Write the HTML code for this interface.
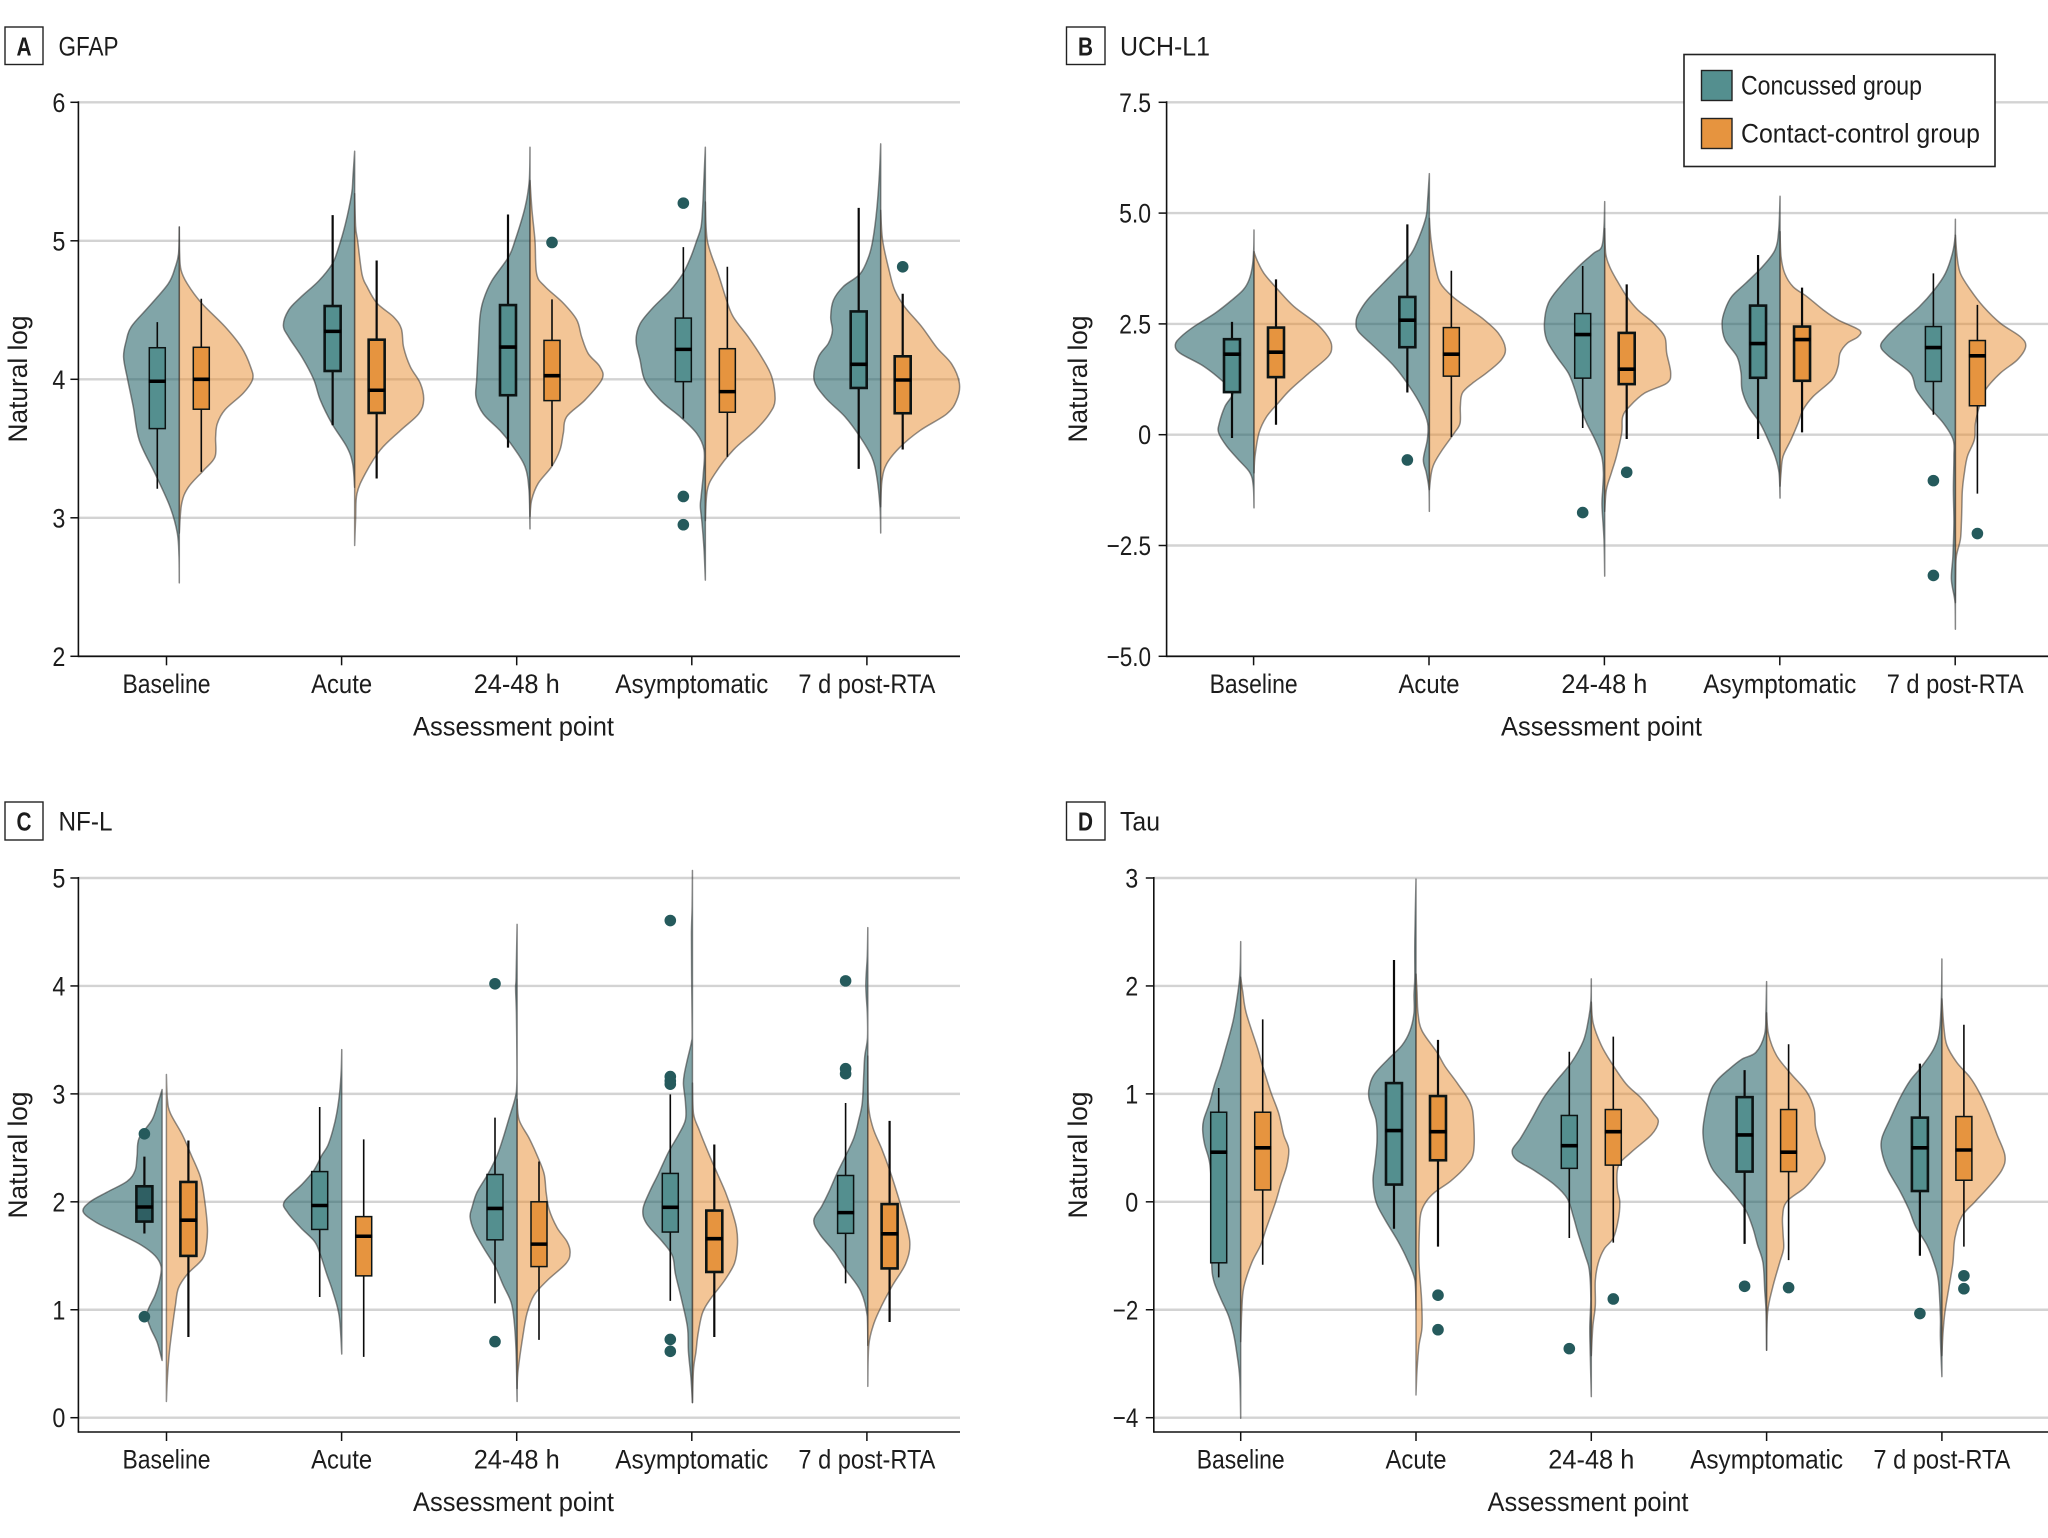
<!DOCTYPE html>
<html lang="en">
<head>
<meta charset="utf-8">
<title>Biomarker violin plots</title>
<style>
html,body{margin:0;padding:0;background:#fff;}
svg{display:block;font-family:"Liberation Sans",sans-serif;fill:#1c1c1c;}
</style>
</head>
<body>
<svg id="figure" xmlns="http://www.w3.org/2000/svg" width="2048" height="1538" viewBox="0 0 2048 1538">
  <rect x="0" y="0" width="2048" height="1538" fill="#fff"/>
  <g id="panel-a"></g>
  <g id="panel-b"></g>
  <g id="panel-c"></g>
  <g id="panel-d"></g>

  <g>
    <rect x="5" y="27" width="38" height="37.5" fill="#fff" stroke="#222" stroke-width="1.4"/>
    <text x="24" y="55.5" font-size="26" font-weight="700" text-anchor="middle" textLength="15" lengthAdjust="spacingAndGlyphs">A</text>
    <text x="58.5" y="55.5" font-size="27" textLength="60" lengthAdjust="spacingAndGlyphs">GFAP</text>
  </g>
  <g>
    <rect x="1066.5" y="27" width="38.5" height="37.5" fill="#fff" stroke="#222" stroke-width="1.4"/>
    <text x="1085.5" y="55.5" font-size="26" font-weight="700" text-anchor="middle" textLength="15" lengthAdjust="spacingAndGlyphs">B</text>
    <text x="1120" y="55.5" font-size="27" textLength="90" lengthAdjust="spacingAndGlyphs">UCH-L1</text>
  </g>
  <g>
    <rect x="5" y="802" width="38" height="38" fill="#fff" stroke="#222" stroke-width="1.4"/>
    <text x="24" y="830.5" font-size="26" font-weight="700" text-anchor="middle" textLength="15" lengthAdjust="spacingAndGlyphs">C</text>
    <text x="58.5" y="830.5" font-size="27" textLength="54" lengthAdjust="spacingAndGlyphs">NF-L</text>
  </g>
  <g>
    <rect x="1066.5" y="802" width="38.5" height="38" fill="#fff" stroke="#222" stroke-width="1.4"/>
    <text x="1085.5" y="830.5" font-size="26" font-weight="700" text-anchor="middle" textLength="15" lengthAdjust="spacingAndGlyphs">D</text>
    <text x="1120" y="830.5" font-size="27" textLength="40" lengthAdjust="spacingAndGlyphs">Tau</text>
  </g>

  <g id="legend">
    <rect x="1684" y="54.5" width="311" height="112" fill="#fff" stroke="#222" stroke-width="1.6"/>
    <g>
      <rect x="1701.5" y="70.5" width="30.5" height="30" fill="#548f8f" stroke="#222" stroke-width="1.4"/>
      <text x="1741" y="94.5" font-size="27" textLength="181" lengthAdjust="spacingAndGlyphs">Concussed group</text>
    </g>
    <g>
      <rect x="1701.5" y="118.5" width="30.5" height="30" fill="#e6943f" stroke="#222" stroke-width="1.4"/>
      <text x="1741" y="142.5" font-size="27" textLength="239" lengthAdjust="spacingAndGlyphs">Contact-control group</text>
    </g>
  </g>
</svg>

<script>
// ---------- shared categories ----------
const categories = ["Baseline", "Acute", "24-48 h", "Asymptomatic", "7 d post-RTA"];

// ---------- A: GFAP ----------
const gfapTicks = [6, 5, 4, 3, 2];
const gfapTickLabels = ["6", "5", "4", "3", "2"];
// box stats: [low whisker, q1, median, q3, high whisker]
const gfapConcussedBox = [
  [3.21, 3.644, 3.986, 4.228, 4.413],
  [3.668, 4.06, 4.346, 4.529, 5.185],
  [3.507, 3.885, 4.233, 4.536, 5.19],
  [3.716, 3.983, 4.216, 4.442, 4.954],
  [3.353, 3.9375, 4.108, 4.49, 5.238]
];
const gfapControlBox = [
  [3.332, 3.784, 4.0, 4.231, 4.582],
  [3.284, 3.757, 3.921, 4.286, 4.858],
  [3.373, 3.846, 4.026, 4.281, 4.577],
  [3.44, 3.762, 3.911, 4.221, 4.813],
  [3.493, 3.755, 3.995, 4.166, 4.618]
];
const gfapConcussedOutliers = [[], [], [], [5.272, 3.154, 2.95], []];
const gfapControlOutliers = [[], [], [4.988], [], [4.8125]];
// density profiles: [value, density]
const gfapConcussedDensity = [
  [[5.10,0],[4.91,.007],[4.81,.04],[4.69,.11],[4.52,.31],[4.38,.48],[4.28,.53],[4.16,.557],[4.0,.517],[3.80,.46],[3.56,.40],[3.32,.243],[3.08,.093],[2.89,.02],[2.72,.003],[2.53,0]],
  [[5.647,0],[5.46,.017],[5.34,.03],[5.12,.093],[4.93,.17],[4.83,.227],[4.71,.36],[4.59,.543],[4.50,.66],[4.39,.713],[4.305,.66],[4.16,.527],[4.0,.41],[3.85,.343],[3.68,.227],[3.51,.077],[3.39,.02],[3.22,0]],
  [[5.675,0],[5.435,.007],[5.24,.05],[5.0,.15],[4.88,.217],[4.71,.383],[4.57,.467],[4.45,.5],[4.23,.517],[4.0,.533],[3.87,.54],[3.75,.467],[3.63,.3],[3.51,.167],[3.37,.05],[3.2,.01],[2.92,0]],
  [[5.675,0],[5.46,.013],[5.24,.027],[5.10,.043],[5.0,.087],[4.88,.147],[4.76,.227],[4.64,.353],[4.52,.52],[4.40,.653],[4.28,.693],[4.14,.653],[3.99,.603],[3.85,.453],[3.73,.253],[3.61,.087],[3.49,.013],[3.32,.02],[3.15,.043],[3.08,.05],[2.96,.033],[2.77,.013],[2.55,0]],
  [[5.70,0],[5.48,.013],[5.22,.04],[5.0,.08],[4.88,.123],[4.76,.207],[4.67,.373],[4.57,.473],[4.45,.50],[4.35,.483],[4.26,.523],[4.16,.623],[4.0,.667],[3.87,.557],[3.73,.357],[3.585,.207],[3.44,.09],[3.30,.04],[3.08,.007],[2.89,0]]
];
const gfapControlDensity = [
  [[5.10,0],[4.91,.003],[4.79,.017],[4.69,.08],[4.55,.223],[4.38,.457],[4.23,.623],[4.09,.713],[4.0,.733],[3.90,.64],[3.78,.457],[3.68,.38],[3.58,.363],[3.44,.357],[3.34,.24],[3.22,.09],[3.10,.023],[2.89,0]],
  [[5.34,0],[5.10,.01],[5.0,.03],[4.76,.073],[4.67,.123],[4.55,.223],[4.45,.39],[4.365,.467],[4.23,.49],[4.09,.557],[3.97,.657],[3.85,.69],[3.75,.64],[3.63,.457],[3.49,.257],[3.32,.107],[3.175,.023],[3.0,.01],[2.80,0]],
  [[5.435,0],[5.22,.02],[5.0,.05],[4.76,.067],[4.67,.15],[4.55,.333],[4.43,.467],[4.305,.517],[4.185,.583],[4.09,.70],[4.0,.72],[3.85,.55],[3.73,.367],[3.61,.333],[3.49,.30],[3.37,.217],[3.25,.083],[3.13,.017],[3.01,0]],
  [[5.28,0],[5.0,.02],[4.76,.13],[4.57,.213],[4.45,.28],[4.305,.43],[4.16,.563],[4.02,.663],[3.85,.697],[3.75,.64],[3.63,.497],[3.49,.28],[3.32,.097],[3.2,.02],[2.98,0]],
  [[5.22,0],[5.0,.02],[4.76,.093],[4.64,.143],[4.52,.243],[4.38,.41],[4.23,.56],[4.11,.71],[3.97,.787],[3.85,.76],[3.75,.66],[3.63,.393],[3.51,.193],[3.39,.06],[3.27,.013],[3.08,0]]
];

// ---------- B: UCH-L1 ----------
const uchTicks = [7.5, 5, 2.5, 0, -2.5, -5];
const uchTickLabels = ["7.5", "5.0", "2.5", "0", "\u22122.5", "\u22125.0"];
const uchConcussedBox = [
  [-0.075, 0.961, 1.817, 2.155, 2.545],
  [0.953, 1.974, 2.583, 3.108, 4.745],
  [0.15, 1.276, 2.26, 2.733, 3.806],
  [-0.098, 1.284, 2.057, 2.913, 4.054],
  [0.45, 1.201, 1.967, 2.44, 3.64]
];
const uchControlBox = [
  [0.225, 1.299, 1.862, 2.417, 3.506],
  [-0.053, 1.321, 1.817, 2.417, 3.70],
  [-0.098, 1.141, 1.479, 2.297, 3.393],
  [0.052, 1.216, 2.147, 2.44, 3.318],
  [-1.329, 0.653, 1.779, 2.125, 2.928]
];
const uchConcussedOutliers = [[], [-0.57], [-1.757], [], [-1.036, -3.176]];
const uchControlOutliers = [[], [], [-0.848], [], [-2.23]];
const uchConcussedDensity = [
  [[4.62,0],[4.17,.003],[3.79,.017],[3.49,.05],[3.27,.107],[3.04,.22],[2.74,.39],[2.44,.60],[2.21,.73],[2.03,.787],[1.84,.74],[1.54,.50],[1.16,.29],[.94,.21],[.64,.29],[.26,.347],[.04,.353],[-.26,.273],[-.56,.157],[-.86,.04],[-1.16,.007],[-1.65,0]],
  [[5.89,0],[5.29,.017],[4.92,.033],[4.47,.1],[4.09,.18],[3.79,.3],[3.42,.46],[3.04,.62],[2.74,.707],[2.55,.733],[2.33,.71],[1.99,.553],[1.54,.35],[1.09,.2],[.64,.08],[.26,.017],[-.11,.02],[-.56,.06],[-.86,.03],[-1.24,.003],[-1.73,0]],
  [[5.26,0],[4.69,.007],[4.24,.03],[4.09,.113],[3.79,.263],[3.34,.447],[2.97,.563],[2.515,.603],[2.14,.58],[1.76,.48],[1.39,.363],[1.01,.297],[.64,.247],[.26,.18],[-.11,.097],[-.49,.03],[-.86,.013],[-1.24,.02],[-1.61,.027],[-2.36,.007],[-3.19,0]],
  [[5.38,0],[4.62,.013],[4.17,.05],[3.79,.177],[3.42,.343],[3.12,.483],[2.82,.55],[2.515,.58],[2.14,.55],[1.76,.43],[1.39,.39],[1.01,.38],[.64,.317],[.26,.2],[-.11,.12],[-.49,.05],[-.86,.01],[-1.43,0]],
  [[4.86,0],[4.47,.003],[4.09,.03],[3.64,.1],[3.27,.21],[2.89,.36],[2.515,.55],[2.21,.69],[1.99,.747],[1.76,.66],[1.39,.45],[1.01,.39],[.64,.27],[.26,.12],[-.11,.023],[-.49,.015],[-1.24,.02],[-1.99,.015],[-2.74,.025],[-3.27,.04],[-3.79,.003],[-4.39,0]]
];
const uchControlDensity = [
  [[4.13,0],[3.94,.03],[3.64,.1],[3.27,.24],[2.89,.4],[2.515,.62],[2.21,.74],[1.99,.777],[1.76,.74],[1.39,.55],[1.01,.36],[.71,.24],[.41,.127],[.04,.05],[-.49,.01],[-.86,0]],
  [[4.88,0],[4.39,.017],[3.79,.06],[3.42,.11],[3.12,.23],[2.82,.41],[2.59,.55],[2.29,.69],[1.95,.76],[1.69,.72],[1.39,.57],[1.16,.43],[.94,.33],[.64,.31],[.26,.307],[.04,.25],[-.34,.13],[-.64,.05],[-.86,.02],[-1.24,0]],
  [[4.65,0],[4.09,.01],[3.79,.05],[3.49,.12],[3.12,.22],[2.82,.33],[2.515,.49],[2.21,.6],[1.84,.62],[1.39,.66],[1.16,.62],[.94,.40],[.64,.25],[.41,.18],[.04,.17],[-.49,.117],[-.86,.067],[-1.24,.017],[-1.73,0]],
  [[4.58,0],[4.02,.01],[3.64,.047],[3.34,.13],[3.12,.267],[2.82,.43],[2.59,.58],[2.36,.793],[2.21,.78],[2.06,.67],[1.84,.6],[1.54,.58],[1.24,.52],[.86,.33],[.56,.23],[.26,.18],[-.11,.11],[-.49,.03],[-.86,.01],[-1.16,0]],
  [[4.5,0],[4.02,.017],[3.64,.05],[3.27,.15],[2.89,.28],[2.515,.45],[2.21,.65],[1.99,.703],[1.69,.62],[1.39,.45],[1.01,.3],[.64,.24],[.26,.2],[-.11,.19],[-.49,.12],[-.86,.09],[-1.24,.07],[-1.61,.065],[-1.99,.06],[-2.36,.05],[-2.74,.01],[-3.12,.003],[-3.79,0]]
];

// ---------- C: NF-L ----------
const nflTicks = [5, 4, 3, 2, 1, 0];
const nflTickLabels = ["5", "4", "3", "2", "1", "0"];
const nflConcussedBox = [
  [1.707, 1.817, 1.952, 2.144, 2.419],
  [1.118, 1.744, 1.966, 2.28, 2.879],
  [1.059, 1.648, 1.939, 2.253, 2.78],
  [1.082, 1.72, 1.949, 2.263, 2.995],
  [1.244, 1.708, 1.90, 2.244, 2.915]
];
const nflControlBox = [
  [.748, 1.499, 1.83, 2.184, 2.568],
  [.563, 1.314, 1.681, 1.863, 2.578],
  [.721, 1.40, 1.608, 2.0, 2.373],
  [.748, 1.35, 1.658, 1.919, 2.531],
  [.887, 1.383, 1.704, 1.979, 2.75]
];
const nflConcussedOutliers = [[2.63, .936], [], [4.02, .705], [4.606, 3.16, 3.12, 3.09, .725, .615], [4.047, 3.233, 3.187]];
const nflControlOutliers = [[], [], [], [], []];
const nflConcussedDensity = [
  [[3.04,0],[2.92,.04],[2.76,.1],[2.59,.23],[2.43,.25],[2.29,.27],[2.19,.35],[2.09,.55],[2.0,.72],[1.91,.79],[1.81,.66],[1.70,.42],[1.60,.21],[1.50,.07],[1.40,.01],[1.27,.025],[1.135,.07],[.97,.15],[.84,.12],[.70,.05],[.53,0]],
  [[3.41,0],[3.22,.005],[3.02,.02],[2.82,.05],[2.66,.09],[2.52,.14],[2.43,.2],[2.29,.28],[2.16,.4],[2.0,.575],[1.90,.54],[1.76,.41],[1.63,.27],[1.50,.21],[1.33,.15],[1.17,.09],[.94,.025],[.59,0]],
  [[4.57,0],[4.08,.01],[3.98,.015],[3.75,.007],[3.42,.003],[3.09,.003],[2.96,.02],[2.76,.085],[2.59,.14],[2.43,.2],[2.26,.29],[2.09,.4],[1.95,.45],[1.86,.47],[1.73,.43],[1.565,.33],[1.40,.22],[1.23,.14],[1.07,.06],[.90,.03],[.61,.01],[.15,0]],
  [[5.07,0],[4.74,.003],[4.48,.01],[4.08,.008],[3.58,.003],[3.48,.01],[3.32,.05],[3.19,.08],[3.09,.09],[2.92,.07],[2.76,.07],[2.62,.14],[2.46,.24],[2.26,.34],[2.09,.43],[1.93,.495],[1.80,.46],[1.63,.3],[1.50,.2],[1.33,.17],[1.10,.11],[.84,.05],[.61,.04],[.37,.015],[.14,0]],
  [[4.54,0],[4.28,.005],[4.01,.02],[3.75,.005],[3.52,.003],[3.35,.03],[3.19,.04],[2.92,.055],[2.76,.09],[2.59,.14],[2.43,.22],[2.26,.31],[2.09,.39],[1.96,.46],[1.83,.54],[1.70,.48],[1.53,.33],[1.37,.22],[1.17,.07],[.94,.005],[.67,0]]
];
const nflControlDensity = [
  [[3.18,0],[2.95,.01],[2.82,.04],[2.62,.16],[2.43,.25],[2.23,.34],[2.03,.38],[1.76,.41],[1.60,.40],[1.47,.36],[1.33,.21],[1.20,.12],[1.04,.09],[.84,.06],[.61,.03],[.37,.01],[.15,0]],
  [],
  [[2.95,0],[2.76,.02],[2.59,.12],[2.43,.2],[2.26,.27],[2.09,.29],[1.93,.32],[1.76,.4],[1.63,.5],[1.53,.53],[1.43,.49],[1.27,.3],[1.135,.17],[.97,.1],[.77,.06],[.44,.01],[.27,0]],
  [[3.10,0],[2.82,.01],[2.66,.07],[2.43,.17],[2.26,.25],[2.09,.33],[1.93,.39],[1.76,.44],[1.60,.45],[1.43,.42],[1.27,.32],[1.10,.18],[.97,.1],[.77,.055],[.61,.035],[.44,.01],[.14,0]],
  [[3.35,0],[2.92,.005],[2.69,.05],[2.49,.14],[2.29,.22],[2.09,.29],[1.90,.35],[1.63,.42],[1.43,.38],[1.23,.25],[1.04,.14],[.87,.06],[.67,.01],[.29,0]]
];

// ---------- D: Tau ----------
const tauTicks = [3, 2, 1, 0, -2, -4];
const tauTickLabels = ["3", "2", "1", "0", "\u22122", "\u22124"];
const tauConcussedBox = [
  [-1.40, -1.13, .46, .83, 1.055],
  [-.50, .16, .66, 1.10, 2.24],
  [-.67, .31, .52, .80, 1.39],
  [-.78, .28, .62, .97, 1.22],
  [-1.0, .10, .50, .78, 1.28]
];
const tauControlBox = [
  [-1.165, .11, .50, .83, 1.69],
  [-.83, .385, .65, .98, 1.50],
  [-.755, .34, .65, .855, 1.53],
  [-1.08, .28, .46, .855, 1.46],
  [-.83, .20, .48, .79, 1.64]
];
const tauConcussedOutliers = [[], [], [-2.72], [-1.565], [-2.07]];
const tauControlOutliers = [[], [-1.73, -2.37], [-1.80], [-1.59], [-1.37, -1.61]];
const tauConcussedDensity = [
  [[2.41,0],[2.08,.01],[1.75,.06],[1.585,.1],[1.42,.15],[1.255,.2],[1.09,.26],[.92,.31],[.76,.37],[.66,.38],[.53,.36],[.36,.31],[.10,.29],[-.47,.28],[-1.13,.29],[-1.46,.27],[-1.79,.2],[-2.12,.12],[-2.46,.07],[-2.79,.04],[-3.25,.01],[-4.01,0]],
  [[2.99,0],[2.41,.012],[2.08,.012],[1.92,.02],[1.75,.02],[1.585,.06],[1.45,.14],[1.32,.28],[1.19,.41],[1.09,.46],[.96,.47],[.76,.4],[.56,.39],[.36,.41],[.195,.43],[0,.4],[-.33,.31],[-.73,.18],[-1.06,.09],[-1.46,.01],[-1.99,0]],
  [[2.065,0],[1.85,.005],[1.68,.03],[1.49,.08],[1.29,.2],[1.12,.35],[.96,.48],[.76,.6],[.59,.707],[.48,.79],[.39,.75],[.29,.57],[.16,.37],[.03,.24],[-.27,.18],[-.6,.13],[-1,.06],[-1.26,.02],[-1.79,.005],[-2.32,.015],[-2.85,.01],[-3.61,0]],
  [[2.04,0],[1.75,.007],[1.55,.02],[1.385,.107],[1.32,.25],[1.22,.386],[1.12,.5],[1.0,.57],[.76,.625],[.625,.636],[.46,.607],[.295,.536],[.1,.357],[-.14,.214],[-.47,.14],[-.8,.09],[-1.13,.036],[-1.66,.018],[-2.05,.005],[-2.75,0]],
  [[2.25,0],[1.88,.005],[1.585,.025],[1.42,.08],[1.255,.2],[1.12,.32],[.96,.42],[.76,.52],[.59,.6],[.46,.6],[.295,.54],[.1,.42],[-.14,.33],[-.47,.26],[-.8,.15],[-1.13,.08],[-1.46,.035],[-2.12,.015],[-2.52,.015],[-3.24,0]]
];
const tauControlDensity = [
  [[2.08,0],[1.95,.02],[1.75,.055],[1.42,.17],[1.255,.22],[1.02,.3],[.82,.38],[.62,.43],[.49,.48],[.33,.46],[.16,.4],[0,.35],[-.47,.26],[-.8,.2],[-1.13,.11],[-1.59,.03],[-2.05,.01],[-2.59,0]],
  [[2.11,0],[1.95,.01],[1.75,.02],[1.585,.06],[1.385,.21],[1.255,.29],[1.09,.42],[.92,.54],[.76,.575],[.46,.575],[.33,.5],[.195,.35],[.09,.19],[0,.1],[-.2,.05],[-.47,.035],[-1.13,.03],[-1.79,.055],[-2.32,.06],[-2.66,.03],[-3.12,.01],[-3.58,0]],
  [[1.85,0],[1.65,.02],[1.45,.1],[1.29,.2],[1.09,.35],[.96,.5],[.82,.62],[.74,.67],[.62,.6],[.46,.4],[.33,.27],[.13,.26],[0,.285],[-.33,.27],[-.67,.22],[-.87,.13],[-1.13,.07],[-1.46,.04],[-1.92,.04],[-2.32,.015],[-2.85,0]],
  [[1.75,0],[1.55,.02],[1.355,.1],[1.19,.24],[1.02,.4],[.86,.475],[.69,.49],[.53,.54],[.39,.585],[.26,.5],[.13,.38],[0,.2],[-.27,.16],[-.6,.165],[-.87,.17],[-1.13,.13],[-1.59,.06],[-2.05,.01],[-2.75,0]],
  [[1.88,0],[1.62,.02],[1.45,.05],[1.29,.15],[1.155,.28],[1.02,.37],[.82,.47],[.625,.55],[.43,.63],[.295,.6],[.13,.46],[0,.33],[-.27,.2],[-.67,.13],[-1.13,.11],[-1.59,.07],[-2.05,.03],[-2.46,.01],[-2.85,0]]
];

// ---------- rendering ----------
const SVGNS = "http://www.w3.org/2000/svg";
const categoryLabelWidths = [88, 61, 86, 153, 137];
const DENSITY_PX = 100;
const BOX_OFFSET = 22;
const BOX_WIDTH = 16;

function mk(parent, tag, attrs, text) {
  const el = document.createElementNS(SVGNS, tag);
  for (const k in attrs) el.setAttribute(k, attrs[k]);
  if (text !== undefined) el.textContent = text;
  parent.appendChild(el);
  return el;
}

function makeYScale(ticks, topY, botY) {
  const step = (botY - topY) / (ticks.length - 1);
  return function (v) {
    for (let i = 0; i < ticks.length - 1; i++) {
      if (v <= ticks[i] && v >= ticks[i + 1] || i === ticks.length - 2 || (i === 0 && v > ticks[0])) {
        return topY + step * (i + (ticks[i] - v) / (ticks[i] - ticks[i + 1]));
      }
    }
    return botY;
  };
}

function densityPath(profile, cx, side, y) {
  const pts = profile.map(function (p) { return [p[1] * DENSITY_PX, y(p[0])]; });
  let d = "M" + cx.toFixed(2) + " " + pts[0][1].toFixed(2);
  for (let i = 0; i < pts.length - 1; i++) {
    const p0 = pts[Math.max(i - 1, 0)], p1 = pts[i], p2 = pts[i + 1], p3 = pts[Math.min(i + 2, pts.length - 1)];
    const c1w = Math.max(0, p1[0] + (p2[0] - p0[0]) / 6), c1y = p1[1] + (p2[1] - p0[1]) / 6;
    const c2w = Math.max(0, p2[0] - (p3[0] - p1[0]) / 6), c2y = p2[1] - (p3[1] - p1[1]) / 6;
    d += "C" + (cx + side * c1w).toFixed(2) + " " + c1y.toFixed(2) + " " +
      (cx + side * c2w).toFixed(2) + " " + c2y.toFixed(2) + " " +
      (cx + side * p2[0]).toFixed(2) + " " + p2[1].toFixed(2);
  }
  return d + "L" + cx.toFixed(2) + " " + pts[0][1].toFixed(2) + "Z";
}

function tickLabelWidth(s) {
  let w = 0;
  for (const c of s) w += c === "." ? 6 : (c === "\u2212" ? 12.5 : 13);
  return w;
}

function drawBox(g, stats, cx, y, fill, heavy, group, catIdx) {
  const sw = heavy ? 2.6 : 1.5;
  const whisker = mk(g, "line", { x1: cx, x2: cx, y1: y(stats[4]), y2: y(stats[0]), stroke: "#0a0a0a", "stroke-width": heavy ? 2.2 : 1.6 });
  
  
  const box = mk(g, "rect", { x: cx - BOX_WIDTH / 2, width: BOX_WIDTH, y: y(stats[3]), height: y(stats[1]) - y(stats[3]), fill: fill, stroke: "#0c1414", "stroke-width": sw });
  
  
  const med = mk(g, "line", { x1: cx - BOX_WIDTH / 2 - 0.5, x2: cx + BOX_WIDTH / 2 + 0.5, y1: y(stats[2]), y2: y(stats[2]), stroke: "#000", "stroke-width": 3.6 });
  
  
}

function drawPanel(cfg) {
  const root = document.getElementById(cfg.id);
  const y = makeYScale(cfg.ticks, cfg.topY, cfg.botY);
  const tickX = function (i) { return cfg.tickFirst + i * cfg.tickStep; };
  const violinX = function (i) { return cfg.violinFirst + i * cfg.violinStep; };

  const gridG = mk(root, "g", {});
  
  
  cfg.ticks.forEach(function (t, i) {
    const gl = mk(gridG, "line", { x1: cfg.left, x2: cfg.right, y1: y(t), y2: y(t), stroke: "#d3d3d3", "stroke-width": 2.4 });
    
    
  });

  const vioG = mk(root, "g", {});
  
  
  categories.forEach(function (c, i) {
    const cx = violinX(i);
    const concCx = cx + (i === 0 ? cfg.firstConcussedShift : 0);
    if (cfg.conc[i].length) {
      const v1 = mk(vioG, "path", { d: densityPath(cfg.conc[i], concCx, -1, y), fill: "#226066", "fill-opacity": 0.57, stroke: "#333", "stroke-opacity": 0.58, "stroke-width": 1.5, "stroke-linejoin": "round" });
      
      
    }
    if (cfg.ctrl[i].length) {
      const v2 = mk(vioG, "path", { d: densityPath(cfg.ctrl[i], cx, 1, y), fill: "#e88b2e", "fill-opacity": 0.5, stroke: "#333", "stroke-opacity": 0.54, "stroke-width": 1.5, "stroke-linejoin": "round" });
      
      
    }
  });

  const boxG = mk(root, "g", {});
  
  
  categories.forEach(function (c, i) {
    const concX = cfg.boxCenter(i) - BOX_OFFSET;
    const ctrlX = cfg.boxCenter(i) + BOX_OFFSET;
    const concFill = cfg.darkConcussed.indexOf(i) >= 0 ? "#2f5f63" : "#548f8f";
    drawBox(boxG, cfg.concBox[i], concX, y, concFill, cfg.heavyConc.indexOf(i) >= 0, "concussed", i);
    drawBox(boxG, cfg.ctrlBox[i], ctrlX, y, "#e6943f", cfg.heavyCtrl.indexOf(i) >= 0, "control", i);
    cfg.concOut[i].forEach(function (v) {
      const o1 = mk(boxG, "circle", { cx: concX, cy: y(v), r: 5.8, fill: "#255a5c" });
      
      
    });
    cfg.ctrlOut[i].forEach(function (v) {
      const o2 = mk(boxG, "circle", { cx: ctrlX, cy: y(v), r: 5.8, fill: "#255a5c" });
      
      
    });
  });

  const axG = mk(root, "g", {});
  
  
  const yAxis = mk(axG, "line", { x1: cfg.left, x2: cfg.left, y1: cfg.topY - 1, y2: cfg.axisY + 0.8, stroke: "#111", "stroke-width": 1.6 });
  
  
  const xAxis = mk(axG, "line", { x1: cfg.left, x2: cfg.right, y1: cfg.axisY, y2: cfg.axisY, stroke: "#111", "stroke-width": 1.6 });
  
  

  cfg.ticks.forEach(function (t, i) {
    const tk = mk(axG, "line", { x1: cfg.left - 8, x2: cfg.left, y1: y(t), y2: y(t), stroke: "#111", "stroke-width": 1.5 });
    
    
    const lb = mk(axG, "text", { x: cfg.left - cfg.labelGap, y: y(t) + 9.5, "font-size": 27, "text-anchor": "end", textLength: tickLabelWidth(cfg.tickLabels[i]), lengthAdjust: "spacingAndGlyphs" }, cfg.tickLabels[i]);
    
    
  });

  categories.forEach(function (c, i) {
    const tk = mk(axG, "line", { x1: tickX(i), x2: tickX(i), y1: cfg.axisY, y2: cfg.axisY + 9, stroke: "#111", "stroke-width": 1.5 });
    
    
    const lb = mk(axG, "text", { x: tickX(i), y: cfg.axisY + 36.5, "font-size": 27, "text-anchor": "middle", textLength: categoryLabelWidths[i], lengthAdjust: "spacingAndGlyphs" }, c);
    
    
  });

  const xTitle = mk(axG, "text", { x: cfg.xTitleX, y: cfg.axisY + 79, "font-size": 27, "text-anchor": "middle", textLength: 201, lengthAdjust: "spacingAndGlyphs" }, "Assessment point");
  
  
  const yTitle = mk(axG, "text", { transform: "translate(" + cfg.yTitleX + " " + cfg.yTitleY + ") rotate(-90)", "font-size": 27, "text-anchor": "middle", textLength: 127, lengthAdjust: "spacingAndGlyphs" }, "Natural log");
  
  
}

drawPanel({
  id: "panel-a", ticks: gfapTicks, tickLabels: gfapTickLabels,
  topY: 102.3, botY: 656.3, axisY: 656.3, left: 78.4, right: 960, labelGap: 13,
  tickFirst: 166.5, tickStep: 175.1, violinFirst: 179.3, violinStep: 175.35, firstConcussedShift: 0,
  boxCenter: function (i) { return 179.3 + i * 175.35; },
  conc: gfapConcussedDensity, ctrl: gfapControlDensity,
  concBox: gfapConcussedBox, ctrlBox: gfapControlBox,
  concOut: gfapConcussedOutliers, ctrlOut: gfapControlOutliers,
  heavyConc: [1, 2, 4], heavyCtrl: [1, 4], darkConcussed: [],
  xTitleX: 513.5, yTitleX: 27, yTitleY: 379
});
drawPanel({
  id: "panel-b", ticks: uchTicks, tickLabels: uchTickLabels,
  topY: 102.3, botY: 656.3, axisY: 656.3, left: 1166.6, right: 2048, labelGap: 15.5,
  tickFirst: 1253.6, tickStep: 175.4, violinFirst: 1254, violinStep: 175.35, firstConcussedShift: 0,
  boxCenter: function (i) { return 1254 + i * 175.35; },
  conc: uchConcussedDensity, ctrl: uchControlDensity,
  concBox: uchConcussedBox, ctrlBox: uchControlBox,
  concOut: uchConcussedOutliers, ctrlOut: uchControlOutliers,
  heavyConc: [0, 1, 3], heavyCtrl: [0, 2, 3], darkConcussed: [],
  xTitleX: 1601.5, yTitleX: 1087, yTitleY: 379
});
drawPanel({
  id: "panel-c", ticks: nflTicks, tickLabels: nflTickLabels,
  topY: 878, botY: 1417.7, axisY: 1432, left: 78.4, right: 960, labelGap: 13,
  tickFirst: 166.5, tickStep: 175.1, violinFirst: 166.4, violinStep: 175.35, firstConcussedShift: -4.3,
  boxCenter: function (i) { return 166.4 + i * 175.3; },
  conc: nflConcussedDensity, ctrl: nflControlDensity,
  concBox: nflConcussedBox, ctrlBox: nflControlBox,
  concOut: nflConcussedOutliers, ctrlOut: nflControlOutliers,
  heavyConc: [0], heavyCtrl: [0, 3, 4], darkConcussed: [0],
  xTitleX: 513.5, yTitleX: 27, yTitleY: 1155
});
drawPanel({
  id: "panel-d", ticks: tauTicks, tickLabels: tauTickLabels,
  topY: 878, botY: 1417.7, axisY: 1432, left: 1153.8, right: 2048, labelGap: 15.5,
  tickFirst: 1240.7, tickStep: 175.3, violinFirst: 1240.7, violinStep: 175.3, firstConcussedShift: 0,
  boxCenter: function (i) { return 1240.7 + i * 175.3; },
  conc: tauConcussedDensity, ctrl: tauControlDensity,
  concBox: tauConcussedBox, ctrlBox: tauControlBox,
  concOut: tauConcussedOutliers, ctrlOut: tauControlOutliers,
  heavyConc: [1, 3, 4], heavyCtrl: [1], darkConcussed: [],
  xTitleX: 1588, yTitleX: 1087, yTitleY: 1155
});

// keep legend above the gridlines
const fig = document.getElementById("figure");
fig.appendChild(document.getElementById("legend"));
</script>
</body>
</html>
